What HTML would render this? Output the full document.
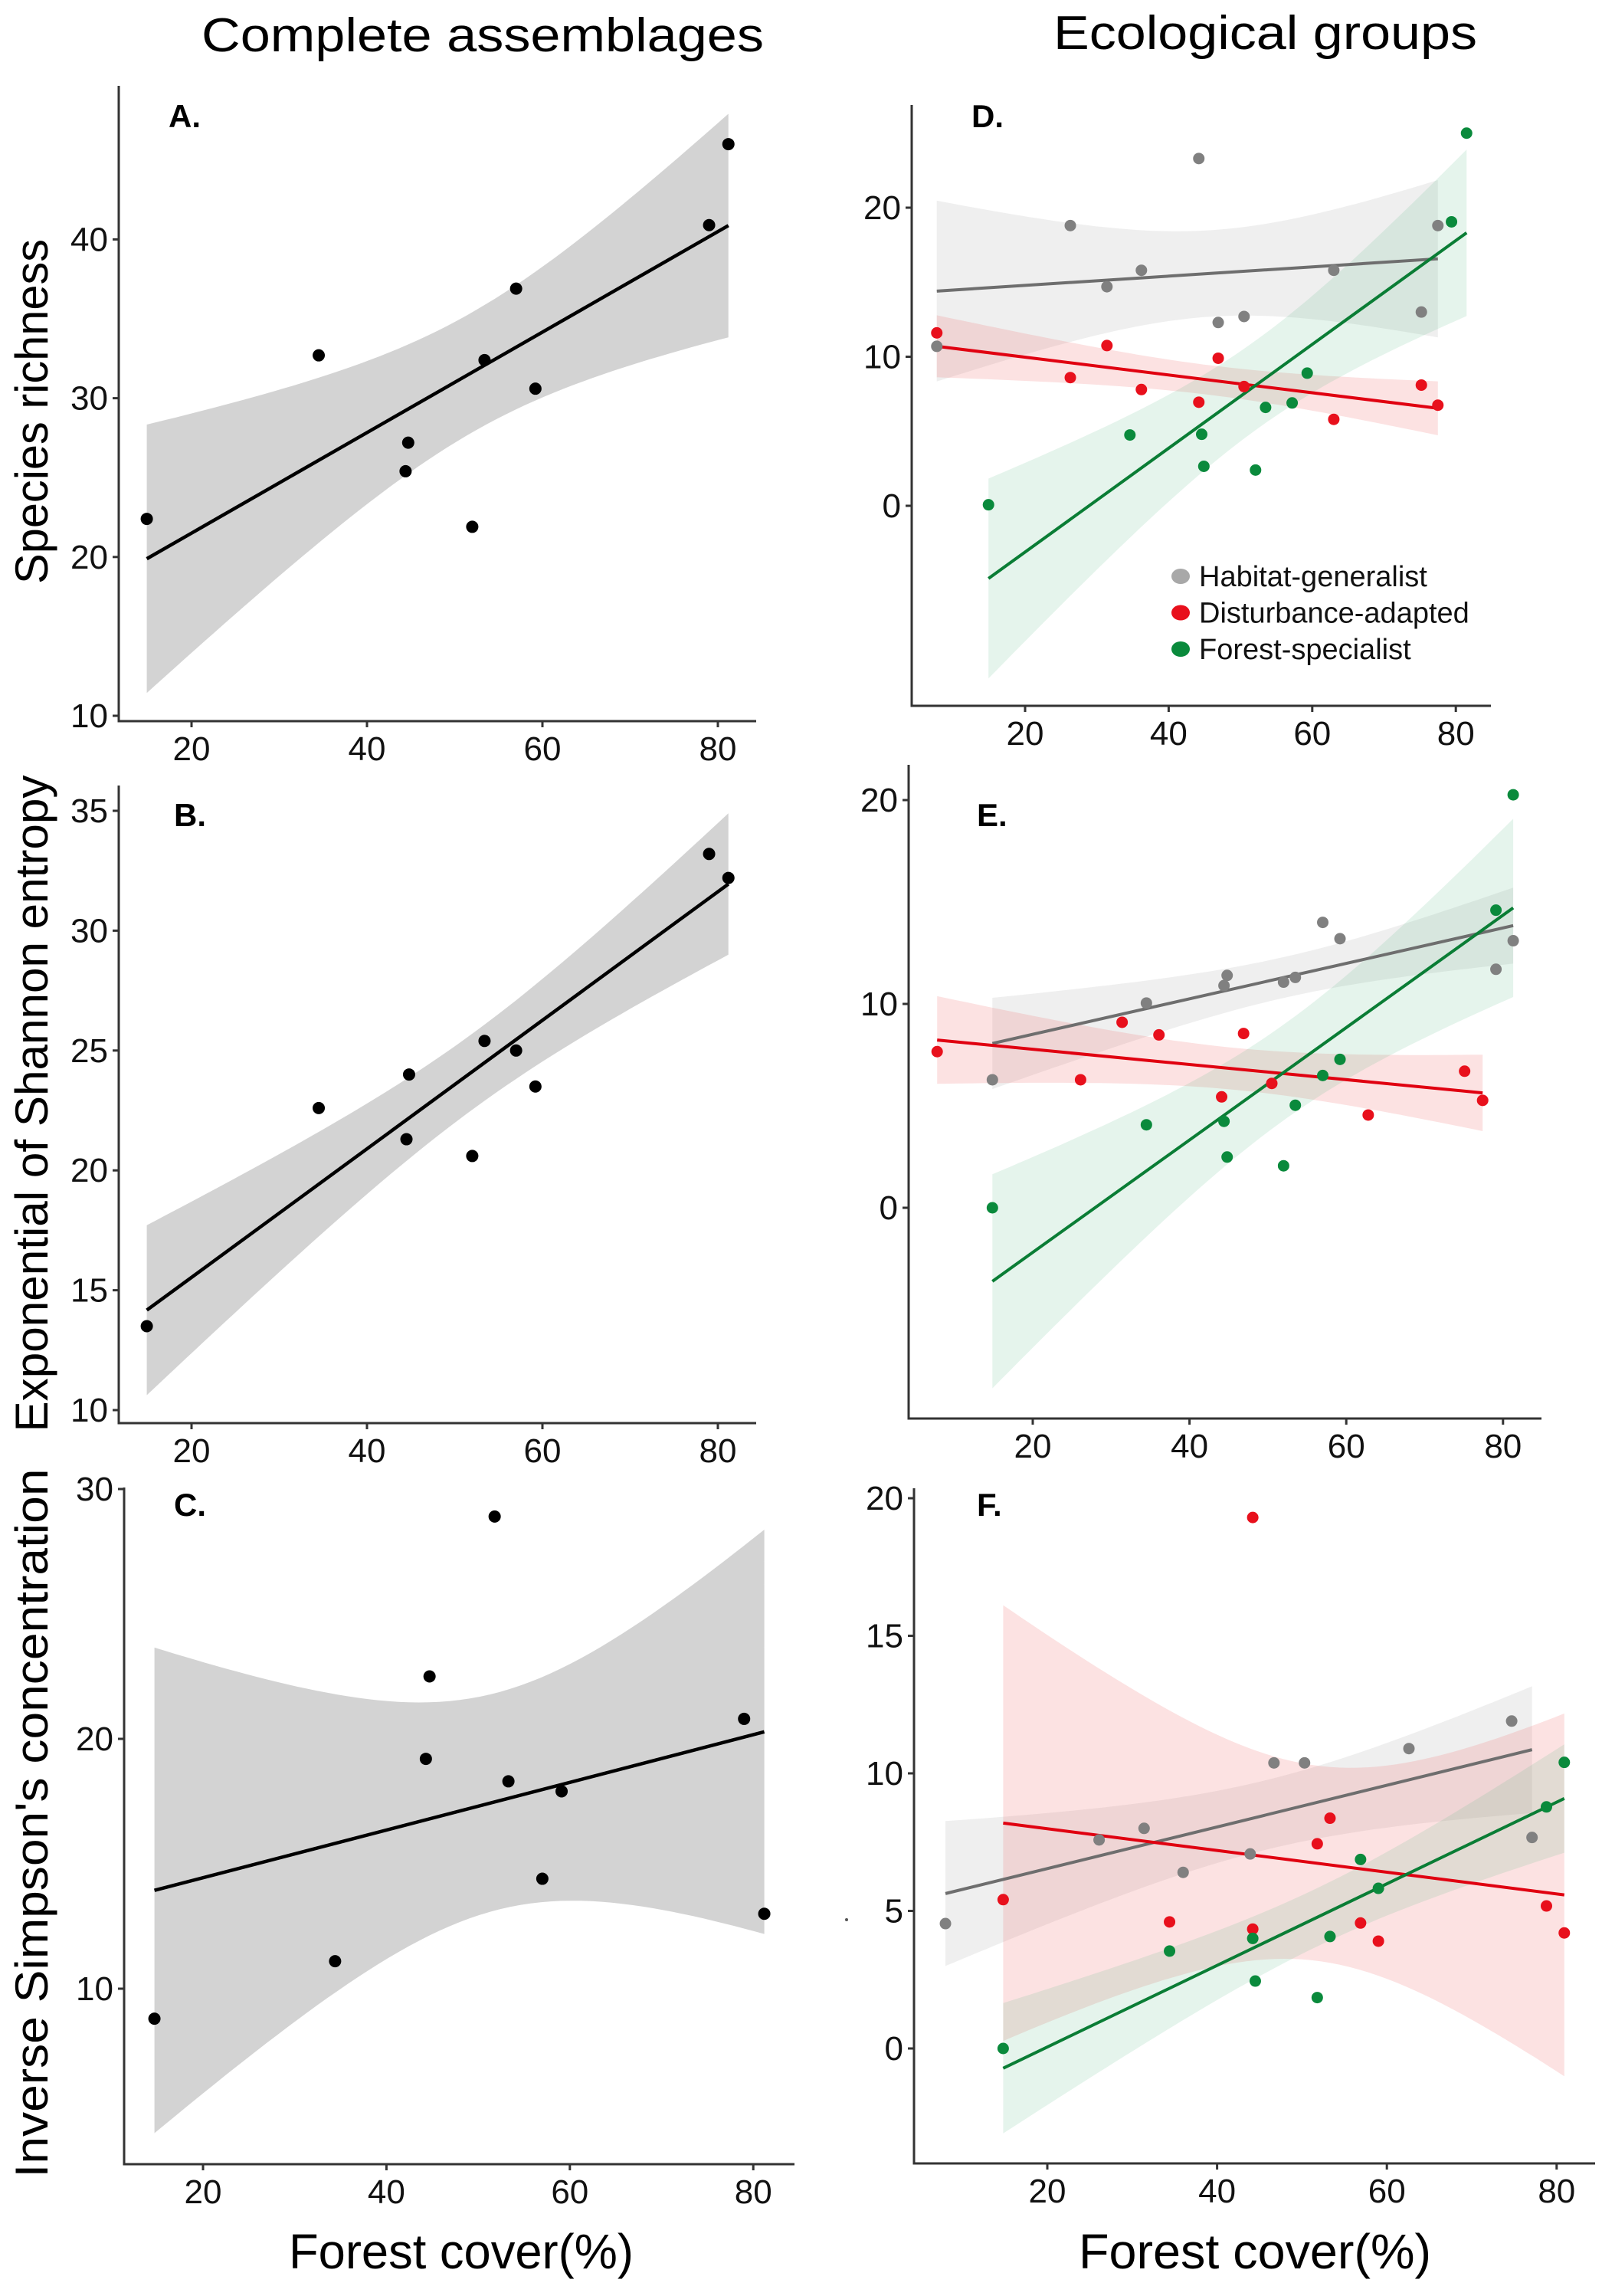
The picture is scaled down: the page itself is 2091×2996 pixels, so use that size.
<!DOCTYPE html>
<html><head><meta charset="utf-8"><style>
html,body{margin:0;padding:0;background:#fff;}
svg{display:block;font-family:"Liberation Sans",Arial,sans-serif;}
</style></head><body>
<svg id="fig" width="2091" height="2996" viewBox="0 0 2091 2996" xmlns="http://www.w3.org/2000/svg">
<rect width="2091" height="2996" fill="#fff"/>
<text x="263" y="67" font-size="62" textLength="734" lengthAdjust="spacingAndGlyphs" fill="#000">Complete assemblages</text>
<text x="1375" y="64" font-size="62" textLength="553" lengthAdjust="spacingAndGlyphs" fill="#000">Ecological groups</text>
<text transform="translate(62,537) rotate(-90)" text-anchor="middle" font-size="60" textLength="450" lengthAdjust="spacingAndGlyphs">Species richness</text>
<text transform="translate(62,1440) rotate(-90)" text-anchor="middle" font-size="60" textLength="857" lengthAdjust="spacingAndGlyphs">Exponential of Shannon entropy</text>
<text transform="translate(62,2379) rotate(-90)" text-anchor="middle" font-size="60" textLength="925" lengthAdjust="spacingAndGlyphs">Inverse Simpson's concentration</text>
<text x="377" y="2960" font-size="64" textLength="450" lengthAdjust="spacingAndGlyphs">Forest cover(%)</text>
<text x="1408" y="2960" font-size="64" textLength="460" lengthAdjust="spacingAndGlyphs">Forest cover(%)</text>
<circle cx="1105" cy="2505" r="2" fill="#555"/>
</svg>
<script>
// ---- Data ----
// Panel A: species richness, complete assemblages
const aX = [14.9, 34.5, 44.4, 44.7, 52.0, 53.4, 57.0, 59.2, 79.0, 81.2];
const aY = [22.4, 32.7, 25.4, 27.2, 21.9, 32.4, 36.9, 30.6, 40.9, 46.0];
// Panel B: exp Shannon
const bX = [14.9, 34.5, 44.5, 44.8, 52.0, 53.4, 57.0, 59.2, 79.0, 81.2];
const bY = [13.5, 22.6, 21.3, 24.0, 20.6, 25.4, 25.0, 23.5, 33.2, 32.2];
// Panel C: inverse Simpson
const cX = [14.7, 34.4, 44.3, 44.7, 51.8, 53.3, 57.0, 59.1, 79.0, 81.2];
const cY = [8.8, 11.1, 19.2, 22.5, 28.9, 18.3, 14.4, 17.9, 20.8, 13.0];
// Panel D: species richness by group
const dGenX = [7.7, 26.3, 31.4, 36.2, 44.2, 46.9, 50.5, 63.0, 75.2, 77.5];
const dGenY = [10.7, 18.8, 14.7, 15.8, 23.3, 12.3, 12.7, 15.8, 13.0, 18.8];
const dDisX = [7.7, 26.3, 31.4, 36.2, 44.2, 46.9, 50.5, 63.0, 75.2, 77.5];
const dDisY = [11.6, 8.6, 10.75, 7.8, 6.95, 9.9, 8.0, 5.8, 8.1, 6.75];
const dForX = [14.9, 34.6, 44.6, 44.9, 52.1, 53.5, 57.2, 59.3, 79.4, 81.5];
const dForY = [0.07, 4.75, 4.8, 2.65, 2.4, 6.6, 6.9, 8.9, 19.05, 25.0];
// Panel E: exp Shannon by group
const eGenX = [14.85, 34.5, 44.4, 44.8, 52.0, 53.5, 57.0, 59.2, 79.1, 81.3];
const eGenY = [6.28, 10.04, 10.9, 11.4, 11.07, 11.3, 14.0, 13.2, 11.7, 13.1];
const eDisX = [7.8, 26.1, 31.4, 36.1, 44.1, 46.9, 50.5, 62.8, 75.1, 77.4];
const eDisY = [7.66, 6.28, 9.1, 8.48, 5.44, 8.55, 6.1, 4.55, 6.7, 5.27];
const eForX = [14.85, 34.5, 44.4, 44.8, 52.0, 53.5, 57.0, 59.2, 79.1, 81.3];
const eForY = [0, 4.07, 4.24, 2.49, 2.06, 5.03, 6.49, 7.28, 14.6, 20.26];
// Panel F: inverse Simpson by group
const fGenX = [8.0, 26.1, 31.4, 36.0, 43.9, 46.7, 50.3, 62.6, 74.7, 77.1];
const fGenY = [4.54, 7.58, 8.0, 6.4, 7.07, 10.38, 10.38, 10.9, 11.9, 7.67];
const fDisX = [14.8, 34.4, 44.2, 44.2, 51.8, 53.3, 56.9, 59.0, 78.8, 80.9];
const fDisY = [5.41, 4.6, 19.3, 4.34, 7.44, 8.37, 4.56, 3.9, 5.18, 4.2];
const fForX = [14.8, 34.4, 44.2, 44.5, 51.8, 53.3, 56.9, 59.0, 78.8, 80.9];
const fForY = [0, 3.54, 4.0, 2.45, 1.85, 4.07, 6.87, 5.82, 8.78, 10.4];
// Tick labels
const xTicks = [20, 40, 60, 80];
const aTicks = [10, 20, 30, 40];
const bTicks = [10, 15, 20, 25, 30, 35];
const cTicks = [10, 20, 30];
const dTicks = [0, 10, 20];
const eTicks = [0, 10, 20];
const fTicks = [0, 5, 10, 15, 20];
const groupNames = ["Habitat-generalist", "Disturbance-adapted", "Forest-specialist"];

const NS = "http://www.w3.org/2000/svg";
const svg = document.getElementById("fig");
function mk(tag, attrs, parent) {
  const e = document.createElementNS(NS, tag);
  for (const k in attrs) e.setAttribute(k, attrs[k]);
  (parent || svg).appendChild(e);
  return e;
}
const tTab = {8: 2.306};
function fit(xs, ys) {
  const n = xs.length;
  const mx = xs.reduce((a, b) => a + b, 0) / n, my = ys.reduce((a, b) => a + b, 0) / n;
  let sxx = 0, sxy = 0;
  for (let i = 0; i < n; i++) { sxx += (xs[i] - mx) ** 2; sxy += (xs[i] - mx) * (ys[i] - my); }
  const b = sxy / sxx, a = my - b * mx;
  let sse = 0;
  for (let i = 0; i < n; i++) sse += (ys[i] - a - b * xs[i]) ** 2;
  const s = Math.sqrt(sse / (n - 2));
  const t = tTab[n - 2] || 2.306;
  return { a, b, mx, sxx, s, t, n, lo: Math.min(...xs), hi: Math.max(...xs) };
}
function drawPanel(p) {
  const g = mk("g", {});
  
  
  const sx = v => p.x20 + (v - 20) * p.xu;
  const sy = v => p.y0 - (v - p.yv0) * p.yu;
  // bands
  p.series.forEach(se => {
    const f = fit(se.x, se.y);
    const N = 60, up = [], dn = [];
    for (let i = 0; i <= N; i++) {
      const x = f.lo + (f.hi - f.lo) * i / N;
      const yh = f.a + f.b * x;
      const se_ = f.s * Math.sqrt(1 / f.n + (x - f.mx) ** 2 / f.sxx);
      up.push(sx(x).toFixed(1) + "," + sy(yh + f.t * se_).toFixed(1));
      dn.unshift(sx(x).toFixed(1) + "," + sy(yh - f.t * se_).toFixed(1));
    }
    const band = mk("polygon", { points: up.concat(dn).join(" "), fill: se.band, "fill-opacity": se.bandOp }, g);
    
    
    se.f = f;
  });
  p.series.forEach(se => {
    const f = se.f;
    const ln = mk("line", { x1: sx(f.lo), y1: sy(f.a + f.b * f.lo), x2: sx(f.hi), y2: sy(f.a + f.b * f.hi), stroke: se.line, "stroke-width": se.lw }, g);
    
    
  });
  p.series.forEach(se => {
    se.x.forEach((xv, i) => {
      const c = mk("circle", { cx: sx(xv), cy: sy(se.y[i]), r: se.r, fill: se.pt }, g);
      
      
    });
  });
  // axes
  const ax = mk("path", { d: `M${p.ax},${p.top} L${p.ax},${p.axY} L${p.right},${p.axY}`, fill: "none", stroke: "#333", "stroke-width": 3 }, g);
  
  
  xTicks.forEach(v => {
    mk("line", { x1: sx(v), y1: p.axY, x2: sx(v), y2: p.axY + 8, stroke: "#333", "stroke-width": 3 }, g);
    const t = mk("text", { x: sx(v), y: p.axY + 51, "text-anchor": "middle", "font-size": 44, fill: "#111" }, g);
    t.textContent = v;
    
    
  });
  p.yTicks.forEach(v => {
    mk("line", { x1: p.ax - 8, y1: sy(v), x2: p.ax, y2: sy(v), stroke: "#333", "stroke-width": 3 }, g);
    const t = mk("text", { x: p.ax - 14, y: sy(v) + 15, "text-anchor": "end", "font-size": 44, fill: "#111" }, g);
    t.textContent = v;
    
    
  });
  const lab = mk("text", { x: p.lx, y: p.ly, "font-size": 42, "font-weight": "bold" }, g);
  lab.textContent = p.label;
  
  
}
const blk = (x, y) => ({ key: "all", x, y, band: "#c8c8c8", bandOp: 0.8, line: "#000", lw: 4.5, pt: "#000", r: 8 });
const grp = (gx, gy, rx, ry, fx, fy) => [
  { key: "generalist", x: gx, y: gy, band: "#9a9a9a", bandOp: 0.16, line: "#6e6e6e", lw: 4, pt: "#808080", r: 7.5 },
  { key: "disturbance", x: rx, y: ry, band: "#f07070", bandOp: 0.2, line: "#e00010", lw: 4, pt: "#e8101c", r: 7.5 },
  { key: "forest", x: fx, y: fy, band: "#5fb88a", bandOp: 0.16, line: "#0a7d35", lw: 4, pt: "#0a8a3c", r: 7.5 }
];
drawPanel({ name: "panel-a", label: "A.", lx: 220, ly: 166, ax: 155, top: 112, axY: 941, right: 987, x20: 250, xu: 11.45, y0: 934, yv0: 10, yu: 20.72, yTicks: aTicks, series: [blk(aX, aY)] });
drawPanel({ name: "panel-b", label: "B.", lx: 227, ly: 1078, ax: 155, top: 1025, axY: 1857, right: 987, x20: 250, xu: 11.45, y0: 1840, yv0: 10, yu: 31.28, yTicks: bTicks, series: [blk(bX, bY)] });
drawPanel({ name: "panel-c", label: "C.", lx: 227, ly: 1978, ax: 162, top: 1941, axY: 2824, right: 1037, x20: 265, xu: 11.97, y0: 2595, yv0: 10, yu: 32.6, yTicks: cTicks, series: [blk(cX, cY)] });
drawPanel({ name: "panel-d", label: "D.", lx: 1268, ly: 166, ax: 1190, top: 137, axY: 921, right: 1946, x20: 1338, xu: 9.37, y0: 660, yv0: 0, yu: 19.45, yTicks: dTicks, series: grp(dGenX, dGenY, dDisX, dDisY, dForX, dForY) });
drawPanel({ name: "panel-e", label: "E.", lx: 1275, ly: 1078, ax: 1186, top: 998, axY: 1851, right: 2012, x20: 1348, xu: 10.23, y0: 1576, yv0: 0, yu: 26.6, yTicks: eTicks, series: grp(eGenX, eGenY, eDisX, eDisY, eForX, eForY) });
drawPanel({ name: "panel-f", label: "F.", lx: 1275, ly: 1978, ax: 1193, top: 1942, axY: 2823, right: 2082, x20: 1367, xu: 11.08, y0: 2673, yv0: 0, yu: 35.9, yTicks: fTicks, series: grp(fGenX, fGenY, fDisX, fDisY, fForX, fForY) });
// legend
const legCols = ["#a8a8a8", "#e8101c", "#0a8a3c"];
groupNames.forEach((nm, i) => {
  const g = mk("g", {});
  
  
  mk("ellipse", { cx: 1541, cy: 752 + i * 47.5, rx: 12, ry: 10, fill: legCols[i] }, g);
  const t = mk("text", { x: 1565, y: 765 + i * 47.5, "font-size": 38, fill: "#111" }, g);
  t.textContent = nm;
});
</script>
</body></html>
